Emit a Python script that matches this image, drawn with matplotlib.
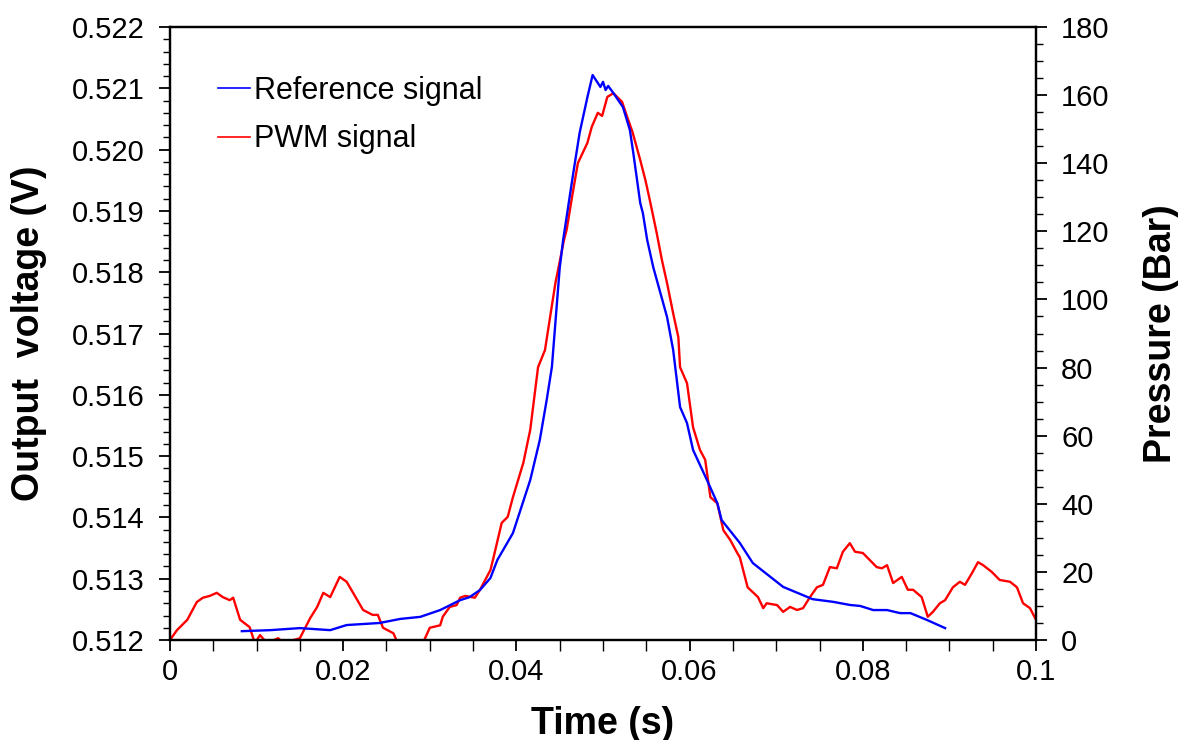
import numpy as np
import matplotlib.pyplot as plt
from matplotlib.ticker import MultipleLocator, FormatStrFormatter

plt.rcParams['font.family'] = ['Liberation Sans', 'DejaVu Sans']
label_font = ['Liberation Sans Narrow', 'Liberation Sans', 'DejaVu Sans']

# reference signal (pressure, right axis)
t_ref = [0.0083, 0.0116, 0.0150, 0.0185, 0.0204, 0.0242, 0.0266, 0.0289, 0.0312,
         0.0335, 0.0346, 0.0358, 0.0370, 0.0378, 0.0396, 0.0416, 0.0427, 0.0435,
         0.0441, 0.0445, 0.0450, 0.0454, 0.0465, 0.0473, 0.0482, 0.0488, 0.0497,
         0.0500, 0.0503, 0.0506, 0.0512, 0.0523, 0.0531, 0.0535, 0.0543, 0.0546,
         0.0551, 0.0558, 0.0574, 0.0581, 0.0589, 0.0597, 0.0604, 0.0620, 0.0632,
         0.0637, 0.0658, 0.0673, 0.0708, 0.0742, 0.0766, 0.0785, 0.0797, 0.0812,
         0.0828, 0.0843, 0.0855, 0.0874, 0.0895]
p_ref = [2.6, 2.9, 3.5, 2.9, 4.4, 5.0, 6.2, 6.8, 8.8,
         11.7, 12.6, 14.7, 18.2, 23.5, 31.4, 47.0, 58.7, 70.5,
         80.2, 93.1, 109.2, 117.5, 136.0, 148.9, 159.4, 165.9, 162.4,
         163.9, 161.5, 162.7, 160.6, 156.5, 149.8, 143.0, 128.3, 125.4,
         117.5, 109.5, 94.8, 85.2, 68.4, 63.7, 55.8, 47.0, 40.2,
         35.2, 28.5, 22.6, 15.6, 12.0, 11.2, 10.3, 10.0, 8.8,
         8.8, 7.9, 7.9, 5.9, 3.5]

# PWM signal (output voltage, left axis)
t_pwm = [0.0, 0.0008, 0.0020, 0.0031, 0.0038, 0.0046, 0.0054, 0.0061, 0.0069,
         0.0073, 0.0081, 0.0092, 0.0098, 0.0104, 0.0112, 0.0125, 0.0131, 0.0150,
         0.0162, 0.0170, 0.0177, 0.0185, 0.0196, 0.0204, 0.0211, 0.0223, 0.0234,
         0.0240, 0.0246, 0.0258, 0.0263, 0.0292, 0.0300, 0.0312, 0.0315, 0.0323,
         0.0331, 0.0335, 0.0341, 0.0352, 0.0358, 0.0370, 0.0373, 0.0383, 0.0390,
         0.0396, 0.0408, 0.0416, 0.0425, 0.0433, 0.0439, 0.0445, 0.0450, 0.0455,
         0.0458, 0.0465, 0.0471, 0.0482, 0.0487, 0.0494, 0.0499, 0.0505, 0.0512,
         0.0522, 0.0528, 0.0534, 0.0543, 0.0549, 0.0554, 0.0562, 0.0568, 0.0574,
         0.0581, 0.0587, 0.0589, 0.0597, 0.0604, 0.0612, 0.0618, 0.0624, 0.0632,
         0.0639, 0.0647, 0.0655, 0.0658, 0.0667, 0.0679, 0.0685, 0.0689, 0.0701,
         0.0708, 0.0716, 0.0724, 0.0731, 0.0739, 0.0747, 0.0754, 0.0762, 0.0770,
         0.0777, 0.0785, 0.0791, 0.0800, 0.0816, 0.0822, 0.0828, 0.0835, 0.0845,
         0.0852, 0.0858, 0.0868, 0.0875, 0.0881, 0.0889, 0.0895, 0.0904, 0.0912,
         0.0918, 0.0926, 0.0933, 0.0939, 0.0949, 0.0958, 0.0970, 0.0978, 0.0985,
         0.0993, 0.1000]
v_pwm = [0.51200, 0.51216, 0.51233, 0.51262, 0.51269, 0.51272, 0.51277, 0.51270, 0.51265,
         0.51269, 0.51233, 0.51221, 0.51195, 0.51208, 0.51195, 0.51203, 0.51195, 0.51203,
         0.51236, 0.51254, 0.51277, 0.51270, 0.51303, 0.51295, 0.51278, 0.51249, 0.51241,
         0.51241, 0.51220, 0.51211, 0.51195, 0.51195, 0.51220, 0.51224, 0.51238, 0.51254,
         0.51257, 0.51269, 0.51272, 0.51269, 0.51282, 0.51314, 0.51331, 0.51391, 0.51401,
         0.51433, 0.51489, 0.51543, 0.51645, 0.51673, 0.51727, 0.51782, 0.51817, 0.51853,
         0.51869, 0.51929, 0.51978, 0.52011, 0.52037, 0.52060, 0.52055, 0.52086, 0.52092,
         0.52078, 0.52053, 0.52029, 0.51983, 0.51950, 0.51918, 0.51864, 0.51820, 0.51782,
         0.51733, 0.51694, 0.51645, 0.51619, 0.51547, 0.51510, 0.51494, 0.51433, 0.51423,
         0.51379, 0.51363, 0.51342, 0.51335, 0.51286, 0.51270, 0.51252, 0.51260, 0.51257,
         0.51246, 0.51254, 0.51249, 0.51252, 0.51270, 0.51286, 0.51290, 0.51319, 0.51317,
         0.51344, 0.51358, 0.51344, 0.51342, 0.51319, 0.51317, 0.51322, 0.51293, 0.51303,
         0.51282, 0.51282, 0.51270, 0.51238, 0.51246, 0.51260, 0.51265, 0.51286, 0.51295,
         0.51290, 0.51309, 0.51327, 0.51322, 0.51311, 0.51298, 0.51295, 0.51286, 0.51260,
         0.51252, 0.51233]

fig = plt.figure(figsize=(11.82, 7.40), dpi=100)
ax = fig.add_axes([0.1438, 0.1351, 0.7327, 0.8284])
ax2 = ax.twinx()

l_pwm, = ax.plot(t_pwm, v_pwm, color='#ff0000', lw=1.7, label='PWM signal')
l_ref, = ax2.plot(t_ref, p_ref, color='#0000ff', lw=1.7, label='Reference signal')

ax.set_xlim(0, 0.1)
ax.set_ylim(0.512, 0.522)
ax2.set_ylim(0, 180)

ax.xaxis.set_major_locator(MultipleLocator(0.02))
ax.xaxis.set_minor_locator(MultipleLocator(0.005))
ax.xaxis.set_major_formatter(FormatStrFormatter('%g'))
ax.yaxis.set_major_locator(MultipleLocator(0.001))
ax.yaxis.set_minor_locator(MultipleLocator(0.0002))
ax.yaxis.set_major_formatter(FormatStrFormatter('%.3f'))
ax2.yaxis.set_major_locator(MultipleLocator(20))
ax2.yaxis.set_minor_locator(MultipleLocator(5))

for a in (ax, ax2):
    a.tick_params(which='major', direction='out', length=8, width=1.3, labelsize=21, colors='black')
    a.tick_params(which='minor', direction='out', length=5, width=1.0)
    for s in a.spines.values():
        s.set_linewidth(1.6)
ax.tick_params(axis='x', which='minor', length=8)
ax.tick_params(axis='x', pad=5)
ax.tick_params(axis='y', pad=10)
ax2.tick_params(axis='y', pad=10)

ax.set_xlabel('Time (s)', fontsize=27, fontweight='bold', family=label_font, labelpad=14)
ax.set_ylabel('Output  voltage (V)', fontsize=27, fontweight='bold', family=label_font, labelpad=18)
ax2.set_ylabel('Pressure (Bar)', fontsize=27, fontweight='bold', family=label_font, labelpad=24)

leg = ax2.legend(handles=[l_ref, l_pwm], loc='upper left', bbox_to_anchor=(0.041, 0.94),
                 frameon=False, fontsize=22, handlelength=1.05, handletextpad=0.15,
                 labelspacing=0.6, borderaxespad=0)
for ln in leg.get_lines():
    ln.set_linewidth(1.2)

fig.savefig('out.png', dpi=100)
